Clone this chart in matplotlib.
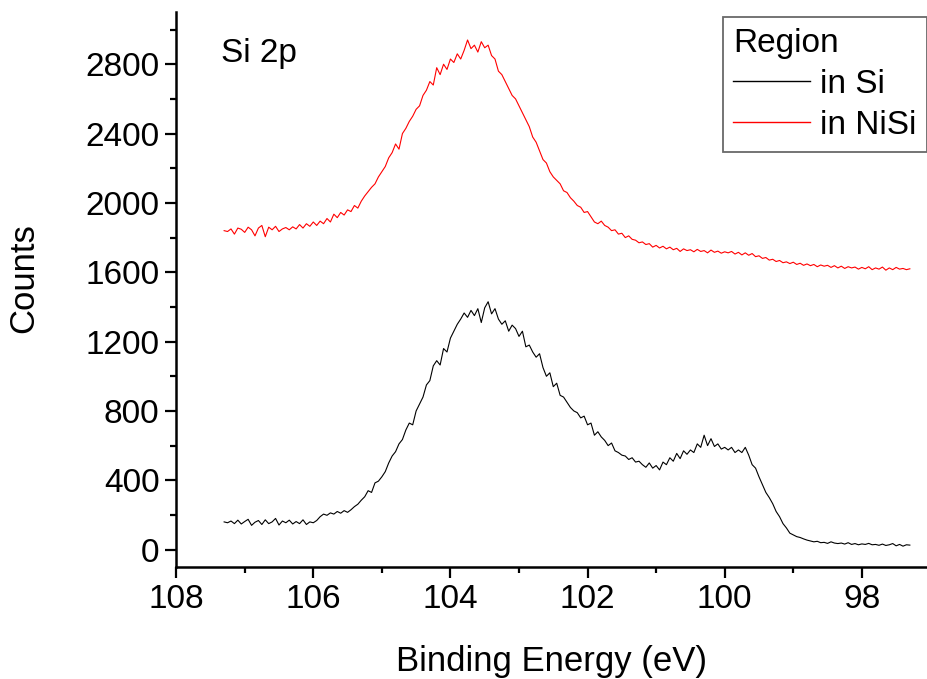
import numpy as np
import matplotlib
matplotlib.use('Agg')
import matplotlib.pyplot as plt
from matplotlib.ticker import MultipleLocator

plt.rcParams['font.family'] = ['Liberation Sans', 'DejaVu Sans']

# binding energy grid (eV), 0.05 eV steps from 107.30 down to 97.30
energy = np.round(np.arange(107.30, 97.299, -0.05), 2)

# counts, 10 points per row (0.5 eV)
counts_si = [
    160, 155, 165, 150, 170, 148, 162, 175, 140, 158,
    168, 145, 172, 150, 160, 180, 142, 165, 155, 170,
    148, 162, 150, 172, 145, 160, 155, 168, 190, 205,
    198, 212, 205, 220, 210, 225, 215, 230, 248, 262,
    285, 305, 340, 330, 385, 395, 420, 450, 500, 540,
    565, 610, 635, 690, 730, 720, 800, 840, 880, 950,
    975, 1060, 1090, 1065, 1160, 1140, 1220, 1260, 1300, 1330,
    1365, 1340, 1380, 1350, 1390, 1310, 1395, 1430, 1360, 1390,
    1330, 1300, 1320, 1260, 1295, 1275, 1230, 1260, 1170, 1180,
    1140, 1110, 1130, 1050, 1000, 1020, 940, 960, 890, 880,
    850, 820, 800, 790, 760, 770, 720, 730, 660, 680,
    650, 630, 600, 615, 570, 560, 545, 540, 520, 530,
    505, 510, 490, 475, 500, 470, 485, 460, 505, 490,
    530, 510, 555, 525, 570, 550, 575, 560, 610, 590,
    660, 600, 640, 595, 610, 580, 590, 575, 590, 560,
    575, 560, 590, 545, 490, 470, 420, 375, 330, 300,
    265, 220, 190, 150, 125, 95, 85, 75, 70, 62,
    55, 50, 45, 48, 40, 42, 36, 45, 38, 35,
    38, 32, 40, 30, 35, 28, 33, 30, 36, 28,
    30, 25, 32, 24, 28, 35, 22, 30, 20, 28,
    26,
]

counts_nisi = [
    1840, 1835, 1850, 1820, 1855, 1848, 1830, 1860, 1845, 1810,
    1855, 1870, 1805, 1860, 1845, 1865, 1835, 1850, 1858, 1845,
    1862, 1850, 1875, 1855, 1880, 1865, 1890, 1870, 1895, 1880,
    1910, 1890, 1935, 1915, 1945, 1930, 1960, 1950, 1985, 1970,
    2010, 2040, 2065, 2090, 2110, 2150, 2180, 2210, 2260, 2290,
    2340, 2310, 2400, 2430, 2470, 2500, 2540, 2560, 2620, 2650,
    2700, 2680, 2780, 2740, 2800, 2770, 2830, 2810, 2860, 2830,
    2880, 2940, 2890, 2910, 2870, 2930, 2895, 2910, 2850, 2830,
    2760, 2740, 2700, 2660, 2620, 2600, 2560, 2520, 2480, 2440,
    2380, 2350, 2300, 2250, 2230, 2180, 2150, 2130, 2110, 2070,
    2060, 2030, 2010, 1985, 1975, 1945, 1950, 1920, 1890, 1880,
    1895, 1870, 1860, 1840, 1845, 1820, 1825, 1800, 1810, 1790,
    1785, 1770, 1775, 1760, 1765, 1745, 1755, 1740, 1750, 1735,
    1745, 1730, 1738, 1720, 1735, 1725, 1730, 1718, 1732, 1720,
    1725, 1712, 1728, 1715, 1722, 1710, 1718, 1712, 1720, 1705,
    1715, 1700, 1712, 1698, 1708, 1690, 1695, 1680, 1685, 1670,
    1675, 1662, 1668, 1655, 1660, 1650, 1658, 1645, 1652, 1640,
    1648, 1638, 1645, 1632, 1642, 1635, 1640, 1628, 1638, 1625,
    1635, 1622, 1632, 1625, 1630, 1618, 1628, 1620, 1632, 1615,
    1625, 1618, 1630, 1612, 1625, 1615, 1628, 1618, 1622, 1615,
    1620,
]

labels = ['in Si', 'in NiSi']
colors = ['black', 'red']

fig = plt.figure(figsize=(9.27, 6.79), dpi=100)
ax = fig.add_axes([0.190, 0.165, 0.810, 0.817])

ax.plot(energy, counts_si, color=colors[0], lw=0.8, label=labels[0])
ax.plot(energy, counts_nisi, color=colors[1], lw=0.8, label=labels[1])

ax.set_xlim(108, 97.05)
ax.set_ylim(-100, 3100)
ax.xaxis.set_major_locator(MultipleLocator(2))
ax.xaxis.set_minor_locator(MultipleLocator(1))
ax.yaxis.set_major_locator(MultipleLocator(400))
ax.yaxis.set_minor_locator(MultipleLocator(200))

for side in ['top', 'right']:
    ax.spines[side].set_visible(False)
for side in ['left', 'bottom']:
    ax.spines[side].set_linewidth(1.8)

ax.tick_params(which='major', direction='out', length=8, width=1.6, labelsize=24, pad=4)
ax.tick_params(which='minor', direction='out', length=4.5, width=1.6)

ax.set_xlabel('Binding Energy (eV)', fontsize=25, labelpad=22)
ax.set_ylabel('Counts', fontsize=25)
ax.yaxis.set_label_coords(-0.181, 0.521)

ax.text(107.35, 2810, 'Si 2p', fontsize=24, va='baseline', ha='left')

leg = ax.legend(title='Region', loc='upper right', bbox_to_anchor=(1.0, 0.991),
                fontsize=24, title_fontsize=24, frameon=True, fancybox=False,
                handlelength=2.3, handletextpad=0.3, borderpad=0.32,
                labelspacing=0.3, borderaxespad=0.0, alignment='left')
leg.get_frame().set_edgecolor('#444444')
leg.get_frame().set_linewidth(1.3)
for line in leg.get_lines():
    line.set_linewidth(1.0)

fig.savefig('out.png', dpi=100)
